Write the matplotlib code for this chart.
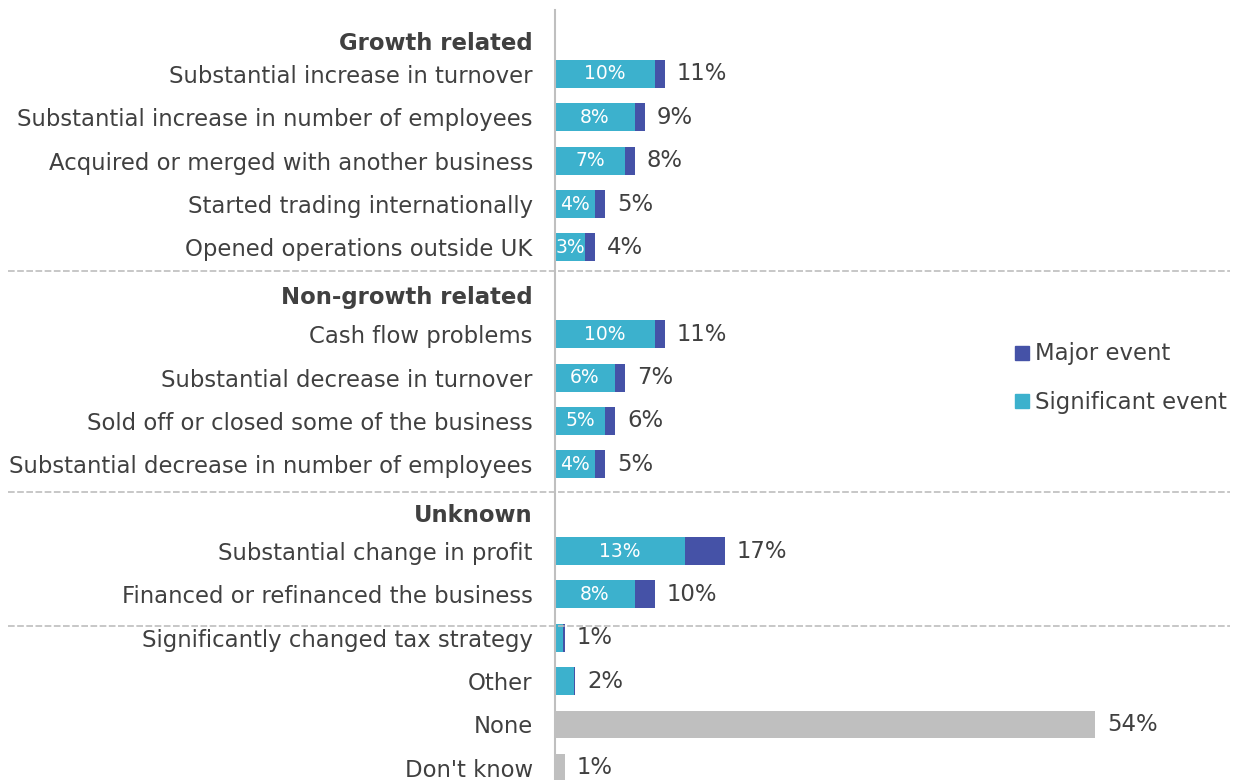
import numpy as np
import matplotlib.pyplot as plt
import matplotlib.transforms as mtransforms
from matplotlib.lines import Line2D

# events by group (percent of businesses)
growth = ['Substantial increase in turnover',
          'Substantial increase in number of employees',
          'Acquired or merged with another business',
          'Started trading internationally',
          'Opened operations outside UK']
growth_sig = [10, 8, 7, 4, 3]
growth_total = [11, 9, 8, 5, 4]

nongrowth = ['Cash flow problems',
             'Substantial decrease in turnover',
             'Sold off or closed some of the business',
             'Substantial decrease in number of employees']
nongrowth_sig = [10, 6, 5, 4]
nongrowth_total = [11, 7, 6, 5]

unknown = ['Substantial change in profit',
           'Financed or refinanced the business']
unknown_sig = [13, 8]
unknown_total = [17, 10]

other = ['Significantly changed tax strategy', 'Other']
other_sig = [0.8, 1.9]
other_total = [1, 2]

rest = ['None', "Don't know"]
rest_total = [54, 1]

headers = ['Growth related', 'Non-growth related', 'Unknown']

SIG = '#3cb1cd'
MAJ = '#4552a7'
GREY = '#bfbfbf'
TXT = '#404040'
FS = 16.4

plt.rcParams['font.family'] = 'DejaVu Sans'
fig = plt.figure(figsize=(12.34, 7.8), dpi=100)
ax = fig.add_axes([555 / 1234, 0, 1 - 555 / 1234, 770 / 780])

# row slots: groups separated by a header slot
pos_growth = np.arange(0, 5)
pos_nongrowth = np.arange(6, 10)
pos_unknown = np.arange(11, 13)
pos_other = np.arange(13, 15)
pos_rest = np.arange(15, 17)
h = 0.645

def stacked(pos, sig, total, inner=True):
    sig = np.array(sig, dtype=float)
    total = np.array(total, dtype=float)
    ax.barh(pos, sig, height=h, color=SIG)
    ax.barh(pos, total - sig, left=sig, height=h, color=MAJ)
    for y, s, t in zip(pos, sig, total):
        if inner:
            ax.text(s / 2, y, f'{s:.0f}%', ha='center', va='center',
                    color='white', fontsize=13.5)
        ax.annotate(f'{t:.0f}%', (t, y), xytext=(12, 0), textcoords='offset pixels',
                    ha='left', va='center', color=TXT, fontsize=FS)

stacked(pos_growth, growth_sig, growth_total)
stacked(pos_nongrowth, nongrowth_sig, nongrowth_total)
stacked(pos_unknown, unknown_sig, unknown_total)
stacked(pos_other, other_sig, other_total, inner=False)

ax.barh(pos_rest, rest_total, height=h, color=GREY)
for y, t in zip(pos_rest, rest_total):
    ax.annotate(f'{t}%', (t, y), xytext=(12, 0), textcoords='offset pixels',
                ha='left', va='center', color=TXT, fontsize=FS)

ticks = np.concatenate([pos_growth, pos_nongrowth, pos_unknown, pos_other, pos_rest])
labels = growth + nongrowth + unknown + other + rest
ax.set_yticks(ticks)
ax.set_yticklabels(labels, fontsize=FS, color=TXT)
ax.tick_params(axis='y', length=0, pad=16)
ax.set_xticks([])

ax.set_xlim(0, 67.9)
ax.set_ylim(16.28, -1.475)
for s in ['top', 'right', 'bottom']:
    ax.spines[s].set_visible(False)
ax.spines['left'].set_color(GREY)
ax.spines['left'].set_linewidth(1.5)

trans = mtransforms.blended_transform_factory(ax.transAxes, ax.transData)
for y, txt in zip([-0.71, 5.16, 10.17], headers):
    ax.annotate(txt, (0, y), xycoords=trans, xytext=(-22, 0), textcoords='offset pixels',
                ha='right', va='center', fontsize=FS, fontweight='bold', color=TXT)

# dashed separators between groups
for y in [4.54, 9.64, 12.73]:
    ax.plot([-0.805, 0.994], [y, y], transform=trans, clip_on=False,
            color='#bdbdbd', lw=1.2, ls=(0, (4, 1.5)))

handles = [Line2D([], [], marker='s', ls='', color=MAJ, markersize=9.5),
           Line2D([], [], marker='s', ls='', color=SIG, markersize=9.5)]
fig.legend(handles, ['Major event', 'Significant event'],
           loc='center left', bbox_to_anchor=(992 / 1234, 1 - 378 / 780),
           frameon=False, fontsize=FS, labelcolor=TXT,
           handletextpad=0.2, handlelength=0.8, labelspacing=1.1)

plt.savefig('out.png', dpi=100)
